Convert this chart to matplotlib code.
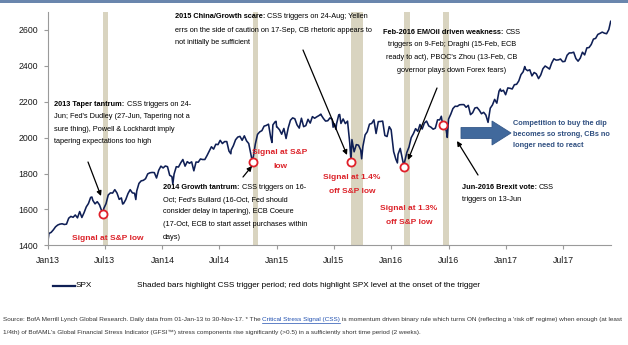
import numpy as np
import pandas as pd
import matplotlib
matplotlib.use("Agg")
import matplotlib.pyplot as plt
from matplotlib.patches import Polygon, Rectangle, FancyArrowPatch
from matplotlib.lines import Line2D

W, H = 628, 345
FAM = ["Liberation Sans", "DejaVu Sans"]

# ---------------- data (weekly Friday closes) ----------------
spx_2013 = [1466, 1472, 1486, 1503,
            1513, 1518, 1520, 1516,
            1518, 1551, 1561, 1556, 1569,
            1553, 1588, 1555, 1582,
            1614, 1633, 1667, 1650, 1631,
            1643, 1626, 1593, 1606,
            1632, 1680, 1692, 1691,
            1710, 1691, 1656, 1664, 1633,
            1655, 1688, 1710, 1692,
            1690, 1703, 1745, 1759,
            1762, 1771, 1798, 1804, 1806,
            1805, 1775, 1818, 1841]
spx_2014 = [1831, 1842, 1838, 1790, 1783,
            1797, 1838, 1836, 1859,
            1878, 1841, 1866, 1857,
            1865, 1815, 1864, 1863,
            1881, 1878, 1878, 1900, 1924,
            1949, 1936, 1963, 1961,
            1985, 1967, 1978, 1978,
            1925, 1931, 1955, 1988, 2003,
            2007, 1985, 2010, 1982,
            1967, 1906, 1887, 1964, 2018,
            2032, 2039, 2064, 2068,
            2075, 2002, 2071, 2088]
spx_2015 = [2058, 2044, 2019, 2051, 1995,
            2055, 2097, 2110, 2105,
            2071, 2053, 2108, 2061,
            2067, 2102, 2081, 2117,
            2108, 2116, 2123, 2126, 2107,
            2092, 2094, 2110, 2102,
            2077, 2077, 2127, 2079, 2104,
            2078, 2092, 1971, 1989,
            1921, 1961, 1958, 1931,
            1951, 2015, 2033, 2075, 2079,
            2099, 2023, 2089, 2090,
            2092, 2012, 2006, 2061]
spx_2016 = [1922, 1880, 1907, 1940,
            1880, 1865, 1917, 1948,
            2000, 2022, 2050, 2035,
            2073, 2048, 2081, 2092, 2065,
            2058, 2047, 2053, 2099,
            2099, 2096, 2071, 2037,
            2103, 2130, 2162, 2175, 2174,
            2183, 2184, 2184, 2169,
            2180, 2128, 2139, 2165, 2168,
            2153, 2133, 2141, 2126,
            2085, 2164, 2182, 2213,
            2192, 2259, 2258, 2264, 2239]
spx_2017 = [2277, 2275, 2271, 2295,
            2297, 2316, 2351, 2367,
            2383, 2373, 2378, 2344, 2363,
            2355, 2329, 2349, 2384,
            2399, 2391, 2382, 2416,
            2439, 2432, 2433, 2438, 2423,
            2425, 2459, 2472, 2472,
            2476, 2441, 2426, 2443,
            2476, 2461, 2500, 2502, 2519,
            2549, 2553, 2575, 2581,
            2588, 2582, 2579, 2602]
year_ranges = [("2013-01-04", "2013-12-27"), ("2014-01-03", "2014-12-26"),
               ("2015-01-02", "2015-12-25"), ("2016-01-08", "2016-12-30"),
               ("2017-01-06", "2017-11-24")]

extra_dates = ["2013-01-01", "2013-05-21", "2013-06-24", "2013-08-27", "2013-10-08",
               "2014-02-03", "2014-08-07", "2014-10-15", "2014-10-16", "2014-12-16",
               "2014-12-29", "2014-12-31",
               "2015-05-21", "2015-06-29", "2015-07-08", "2015-07-20", "2015-08-24",
               "2015-08-25", "2015-09-28", "2015-12-31",
               "2016-01-20", "2016-02-11", "2016-06-08", "2016-06-13", "2016-06-27",
               "2016-12-13",
               "2017-03-01", "2017-11-30"]
extra_vals = [1426, 1669, 1573, 1630, 1655,
              1742, 1910, 1862, 1862, 1973,
              2091, 2059,
              2131, 2058, 2046, 2129, 1893,
              1868, 1882, 2044,
              1859, 1829, 2119, 2079, 2001,
              2271,
              2396, 2648]

# CSS trigger periods (shaded) and SPX at onset (red dots)
css_start = ["2013-06-24", "2014-10-16", "2015-08-24", "2016-02-09", "2016-06-13"]
css_end = ["2013-07-10", "2014-11-03", "2015-10-01", "2016-02-29", "2016-07-01"]
css_spx = [1575, 1862, 1865, 1835, 2068]

tick_dates = ["2013-01-01", "2013-07-01", "2014-01-01", "2014-07-01", "2015-01-01",
              "2015-07-01", "2016-01-01", "2016-07-01", "2017-01-01", "2017-07-01"]
tick_labels = ["Jan13", "Jul13", "Jan14", "Jul14", "Jan15", "Jul15", "Jan16",
               "Jul16", "Jan17", "Jul17"]
y_ticks = [1400, 1600, 1800, 2000, 2200, 2400, 2600]

# ---------------- build series ----------------
parts = []
for (a, b), vals in zip(year_ranges, [spx_2013, spx_2014, spx_2015, spx_2016, spx_2017]):
    idx = pd.date_range(a, b, freq="W-FRI")
    parts.append(pd.Series(vals, index=idx))
parts.append(pd.Series(extra_vals, index=pd.to_datetime(extra_dates)))
spx = pd.concat(parts)
spx = spx[~spx.index.duplicated(keep="last")].sort_index()

# ---------------- figure ----------------
fig = plt.figure(figsize=(W / 100, H / 100), dpi=100)
fig.patch.set_facecolor("white")


def fx(x):
    return x / W


def fy(y):
    return 1 - y / H


ax = fig.add_axes([fx(48), fy(245.3), (611 - 48) / W, (245.3 - 12) / H])
ax.set_facecolor("white")

for s, e in zip(css_start, css_end):
    ax.axvspan(pd.Timestamp(s), pd.Timestamp(e), color="#d9d4c0", lw=0, zorder=0)

ax.plot(spx.index, spx.values, color="#0f1f55", lw=1.15, zorder=2)
ax.scatter(pd.to_datetime(css_start), css_spx, s=34, facecolor="white",
           edgecolor="#e0202a", linewidth=1.3, zorder=3)

ax.set_xlim(pd.Timestamp("2013-01-01"), pd.Timestamp("2017-12-01"))
ax.set_ylim(1400, 2700)
ax.set_xticks(pd.to_datetime(tick_dates))
ax.set_xticklabels(tick_labels)
ax.set_yticks(y_ticks)
ax.set_yticklabels([str(v) for v in y_ticks])
for sp in ["top", "right"]:
    ax.spines[sp].set_visible(False)
for sp in ["left", "bottom"]:
    ax.spines[sp].set_color("#9a9a9a")
    ax.spines[sp].set_linewidth(0.8)
ax.tick_params(axis="both", colors="#9a9a9a", length=3, width=0.8, labelcolor="#1a1a1a")
ax.tick_params(axis="x", pad=5)
ax.tick_params(axis="y", pad=4)
for lab in ax.get_xticklabels() + ax.get_yticklabels():
    lab.set_fontfamily(FAM)
    lab.set_fontsize(6.3)

# top band
fig.patches.append(Rectangle((0, fy(3)), 1, 3 / H, transform=fig.transFigure,
                             facecolor="#6a86ad", edgecolor="none", zorder=0))

renderer = fig.canvas.get_renderer()
ANN = 5.35
RED = "#dc2229"


def rich(x, y, pieces, ha="left", size=ANN):
    txts, widths = [], []
    for s, w, c in pieces:
        t = fig.text(0, 0, s, fontsize=size, fontweight=w, color=c,
                     family=FAM, va="center", ha="left")
        widths.append(t.get_window_extent(renderer).width)
        txts.append(t)
    gap = 0.28 * size * 100 / 72
    total = sum(widths) + gap * (len(widths) - 1)
    cur = x if ha == "left" else x - total / 2
    for t, wd in zip(txts, widths):
        t.set_position((fx(cur), fy(y)))
        cur += wd + gap
    return txts


def block(x, ys, first_bold, first_rest, lines, ha="left", size=ANN):
    rich(x, ys[0], [(first_bold, "bold", "black"), (first_rest, "normal", "black")], ha, size)
    for yy, s in zip(ys[1:], lines):
        fig.text(fx(x), fy(yy), s, fontsize=size, family=FAM, va="center", ha=ha,
                 color="black")


block(54.3, [104, 116.7, 129.3, 141.7], "2013 Taper tantrum:", "CSS triggers on 24-",
      ["Jun; Fed's Dudley (27-Jun, Tapering not a",
       "sure thing), Powell & Lockhardt imply",
       "tapering expectations too high"])
block(175, [16.7, 30, 42.7], "2015 China/Growth scare:", "CSS triggers on 24-Aug; Yellen",
      ["errs on the side of caution on 17-Sep, CB rhetoric appears to",
       "not initially be sufficient"])
block(452, [32.3, 45, 57.3, 70], "Feb-2016 EM/Oil driven weakness:", "CSS",
      ["triggers on 9-Feb; Draghi (15-Feb, ECB",
       "ready to act), PBOC's Zhou (13-Feb, CB",
       "governor plays down Forex fears)"], ha="center")
block(163, [187.3, 200, 211.7, 224, 237.3], "2014 Growth tantrum:", "CSS triggers on 16-",
      ["Oct; Fed's Bullard (16-Oct, Fed should",
       "consider delay in tapering), ECB Coeure",
       "(17-Oct, ECB to start asset purchases within",
       "days)"])
block(462, [187.3, 199.5], "Jun-2016 Brexit vote:", "CSS", ["triggers on 13-Jun"])

red_items = [("Signal at S&P low", 108, 238), ("Signal at S&P", 280, 153), ("low", 280, 166),
             ("Signal at 1.4%", 352, 177.7), ("off S&P low", 352, 191.7),
             ("Signal at 1.3%", 409, 209), ("off S&P low", 409, 222.3)]
for s, x, y in red_items:
    fig.text(fx(x), fy(y), s, fontsize=6.0, fontweight="bold", color=RED,
             family=FAM, va="center", ha="center")

for i, s in enumerate(["Competition to buy the dip", "becomes so strong, CBs no",
                       "longer need to react"]):
    fig.text(fx(513), fy([123.3, 134.3, 145.7][i]), s, fontsize=5.3, color="#2f4f80",
             family=FAM, va="center", ha="left", fontweight="semibold")

# big block arrow
x0, x1, xh, yc = 461, 511, 492, 133
sh, hh = 5.5, 12
verts = [(x0, yc - sh), (xh, yc - sh), (xh, yc - hh), (x1, yc), (xh, yc + hh),
         (xh, yc + sh), (x0, yc + sh)]
fig.patches.append(Polygon([(fx(a), fy(b)) for a, b in verts], closed=True,
                           transform=fig.transFigure, facecolor="#41699c",
                           edgecolor="#35598a", lw=0.6, zorder=5))

# black pointer arrows (tail -> head, figure pixels from top-left)
arrows = [((88, 162), (101, 196)), ((243, 177), (252, 166)), ((303, 50), (347, 155)),
          ((437, 88), (408, 160)), ((478, 175), (457, 141))]
for (tx, ty), (hx, hy) in arrows:
    fig.add_artist(FancyArrowPatch(
        (fx(tx), fy(ty)), (fx(hx), fy(hy)), transform=fig.transFigure,
        arrowstyle="-|>", mutation_scale=7, color="black", lw=0.9, shrinkA=0, shrinkB=0))

# legend
fig.add_artist(Line2D([fx(53), fx(75)], [fy(285.5), fy(285.5)], color="#0f1f55", lw=1.6,
                      transform=fig.transFigure))
fig.text(fx(76), fy(285.5), "SPX", fontsize=5.9, family=FAM, va="center", ha="left")
fig.text(fx(137), fy(285.5), "Shaded bars highlight CSS trigger period; red dots highlight "
         "SPX level at the onset of the trigger", fontsize=5.9, family=FAM,
         va="center", ha="left")

# source note (size fitted so that the first line spans the figure like the original)
src_a = "Source: BofA Merrill Lynch Global Research. Daily data from 01-Jan-13 to 30-Nov-17. * The"
src_link = "Critical Stress Signal (CSS)"
src_b = ("is momentum driven binary rule which turns ON (reflecting a 'risk off' regime) "
         "when enough (at least")
src_2 = ("1/4th) of BofAML's Global Financial Stress Indicator (GFSI\u2122) stress components "
         "rise significantly (>0.5) in a sufficiently short time period (2 weeks).")
probe = fig.text(0, 0, src_a + " " + src_link + " " + src_b, fontsize=10, family=FAM)
SRC = 10 * 617 / probe.get_window_extent(renderer).width
probe.remove()
gap = 0.28 * SRC * 100 / 72
p1 = fig.text(fx(3), fy(320), src_a, fontsize=SRC, family=FAM, va="center", ha="left",
              color="#333333")
w1 = p1.get_window_extent(renderer).width
p2 = fig.text(fx(3 + w1 + gap), fy(320), src_link, fontsize=SRC, family=FAM, va="center",
              ha="left", color="#1f4fb0")
bb2 = p2.get_window_extent(renderer)
fig.add_artist(Line2D([bb2.x0 / W, bb2.x1 / W], [fy(323.0), fy(323.0)], color="#1f4fb0",
                      lw=0.5, transform=fig.transFigure))
fig.text(fx(3 + w1 + gap + bb2.width + gap), fy(320), src_b, fontsize=SRC, family=FAM,
         va="center", ha="left", color="#333333")
fig.text(fx(3), fy(332.5), src_2, fontsize=SRC, family=FAM, va="center", ha="left",
         color="#333333")

fig.savefig("out.png", dpi=100, facecolor="white")
